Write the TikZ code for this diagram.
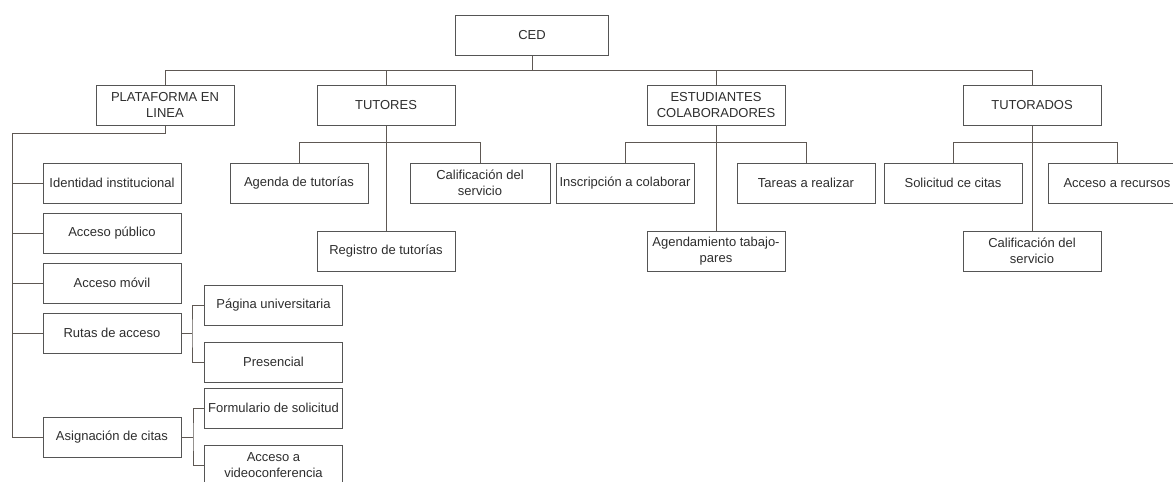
\documentclass[tikz,border=0pt]{standalone}
\usepackage{fontspec}
\setmainfont{Liberation Sans}
\definecolor{boxgray}{HTML}{555555}
\definecolor{linegray}{HTML}{5E5853}
\definecolor{textgray}{HTML}{2E2E2E}
\begin{document}
\begin{tikzpicture}[x=1pt,y=-1pt,
  box/.style={draw=boxgray, line width=1pt, minimum width=138pt, minimum height=40pt,
    inner sep=0pt, align=center, font=\fontsize{13}{15.5}\selectfont, text=textgray},
  conn/.style={draw=linegray, line width=0.9pt}]
\useasboundingbox (0,0) rectangle (1173,482);
\clip (0,0) rectangle (1173,482);
\fill[white] (0,0) rectangle (1173,482);
% top
\node[box, minimum width=153pt] (ced) at (532,35) {CED};
\node[box] (plat) at (165,105) {PLATAFORMA EN\\LINEA};
\node[box] (tut) at (386,105) {TUTORES};
\node[box] (est) at (716,105) {ESTUDIANTES\\COLABORADORES};
\node[box] (tdos) at (1032,105) {TUTORADOS};
% tutores
\node[box] (agenda) at (299,183) {Agenda de tutorías};
\node[box, minimum width=140pt] (calt) at (480,183) {Calificación del\\servicio};
\node[box] (reg) at (386,251) {Registro de tutorías};
% estudiantes
\node[box] (insc) at (625,183) {Inscripción a colaborar};
\node[box] (tar) at (806,183) {Tareas a realizar};
\node[box] (agen) at (716,251) {Agendamiento tabajo-\\pares};
% tutorados
\node[box] (sol) at (953,183) {Solicitud ce citas};
\node[box] (rec) at (1117,183) {Acceso a recursos};
\node[box] (cals) at (1032,251) {Calificación del\\servicio};
% plataforma
\node[box] (ide) at (112,183) {Identidad institucional};
\node[box] (pub) at (112,233) {Acceso público};
\node[box] (mov) at (112,283) {Acceso móvil};
\node[box] (rut) at (112,333) {Rutas de acceso};
\node[box] (asig) at (112,437) {Asignación de citas};
\node[box] (pag) at (273.5,305) {Página universitaria};
\node[box] (pres) at (273.5,362) {Presencial};
\node[box] (form) at (273.5,408) {Formulario de solicitud};
\node[box] (vid) at (273.5,465) {Acceso a\\videoconferencia};
% connectors top level
\coordinate (bus) at (532,71);
\draw[conn] (ced.south) -- (bus);
\draw[conn] (plat.north) -- ++(0,-14) -| (tdos.north);
\draw[conn] (tut.north) -- ++(0,-14);
\draw[conn] (est.north) -- ++(0,-14);
% tutores
\draw[conn] (tut.south) -- (reg.north);
\draw[conn] (agenda.north) -- ++(0,-20) -| (calt.north);
% estudiantes
\draw[conn] (est.south) -- (agen.north);
\draw[conn] (insc.north) -- ++(0,-20) -| (tar.north);
% tutorados
\draw[conn] (tdos.south) -- (cals.north);
\draw[conn] (sol.north) -- ++(0,-20) -| (rec.north);
% plataforma
\coordinate (pl) at (12,133);
\draw[conn] (plat.south) |- (pl) |- (asig.west);
\draw[conn] (ide.west) -- (ide.west -| pl);
\draw[conn] (pub.west) -- (pub.west -| pl);
\draw[conn] (mov.west) -- (mov.west -| pl);
\draw[conn] (rut.west) -- (rut.west -| pl);
% rutas
\coordinate (rj) at (192,333);
\draw[conn] (rut.east) -- (rj);
\draw[conn] (pag.west) -| (rj) |- (pres.west);
% asignacion
\coordinate (aj) at (193,437);
\draw[conn] (asig.east) -- (aj);
\draw[conn] (form.west) -| (aj) |- (vid.west);
\end{tikzpicture}
\end{document}
